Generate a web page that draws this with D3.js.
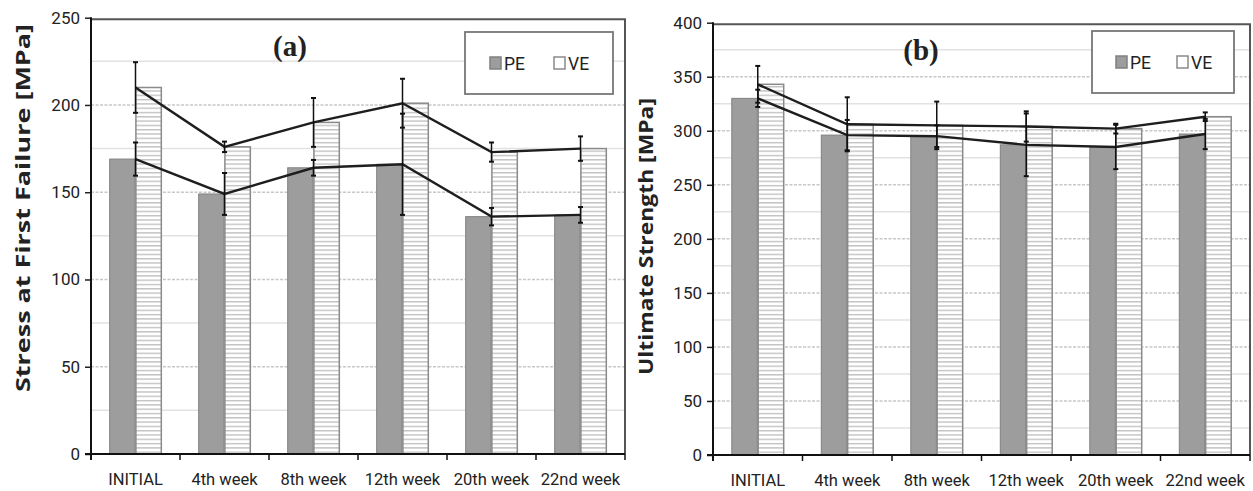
<!DOCTYPE html>
<html>
<head>
<meta charset="utf-8">
<script src="https://cdn.jsdelivr.net/npm/d3@7"></script>
<style>
  html, body { margin: 0; padding: 0; background: #fff; }
  svg { display: block; }
  text { font-family: Roboto, "Open Sans", sans-serif; fill: #222; }
</style>
</head>
<body>
<svg id="chart" width="1253" height="491"></svg>
<script>
// Sampling points of the ageing test
const weeks = ["INITIAL", "4th week", "8th week", "12th week", "20th week", "22nd week"];
const seriesNames = ["PE", "VE"];

// (a) Stress at first failure [MPa], mean and standard deviation
const peFirstFailure    = [169, 149, 164, 166, 136, 137];
const peFirstFailureErr = [9.5, 12, 4.5, 29, 5, 4.5];
const veFirstFailure    = [210, 176, 190, 201, 173, 175];
const veFirstFailureErr = [14.5, 3, 14, 14, 5.5, 7];

// (b) Ultimate strength [MPa], mean and standard deviation
const peUltimate    = [330, 296, 295, 287, 285, 297];
const peUltimateErr = [8, 14, 10, 29, 20.5, 14];
const veUltimate    = [343, 306, 305, 304, 302, 313];
const veUltimateErr = [17, 25, 22, 14, 4.5, 4];

// Axis tick values
const ticksA = [0, 50, 100, 150, 200, 250];
const ticksB = [0, 50, 100, 150, 200, 250, 300, 350, 400];

const svg = d3.select("#chart");

// horizontal stripe fill for the VE bars
const defs = svg.append("defs");
const pat = defs.append("pattern")
  .attr("id", "hstripe")
  .attr("patternUnits", "userSpaceOnUse")
  .attr("width", 6).attr("height", 4.3);
pat.append("rect").attr("width", 6).attr("height", 4.3).attr("fill", "#fff");
pat.append("rect").attr("y", 0).attr("width", 6).attr("height", 1.4).attr("fill", "#c2c2c2");

function drawPanel(cfg) {
  const g = svg.append("g");
  const x = d3.scaleBand().domain(weeks).range([cfg.left, cfg.right]);
  const bw = x.bandwidth();
  const sub = d3.scaleBand().domain(seriesNames).range([bw * 0.21, bw * 0.79]).paddingInner(0.03);
  const y = d3.scaleLinear().domain([0, cfg.max]).range([cfg.bottom, cfg.top]);

  // grid lines every 25 units
  const gridVals = d3.range(25, cfg.max, 25);
  g.selectAll("line.grid").data(gridVals).join("line")
    .attr("x1", cfg.left).attr("x2", cfg.right)
    .attr("y1", d => y(d)).attr("y2", d => y(d))
    .attr("stroke", d => d % 50 === 0 ? "#c8c8c8" : "#e2e2e2")
    .attr("stroke-width", 1.5)
    .attr("stroke-dasharray", d => d % 50 === 0 ? "3,1.5" : null);

  // frame top and right
  g.append("path")
    .attr("d", `M${cfg.left},${y(cfg.max) + 1.5}H${cfg.right}V${cfg.bottom}`)
    .attr("fill", "none").attr("stroke", "#555").attr("stroke-width", 2);

  // bars
  const rows = weeks.map((w, i) => ({ w, pe: cfg.pe[i], ve: cfg.ve[i], peErr: cfg.peErr[i], veErr: cfg.veErr[i] }));
  g.selectAll("rect.pe").data(rows).join("rect")
    .attr("x", d => x(d.w) + sub("PE"))
    .attr("y", d => y(d.pe))
    .attr("width", sub.bandwidth())
    .attr("height", d => y(0) - y(d.pe))
    .attr("fill", "#9d9d9d").attr("stroke", "#808080").attr("stroke-width", 1);
  g.selectAll("rect.ve").data(rows).join("rect")
    .attr("x", d => x(d.w) + sub("VE"))
    .attr("y", d => y(d.ve))
    .attr("width", sub.bandwidth())
    .attr("height", d => y(0) - y(d.ve))
    .attr("fill", "url(#hstripe)").attr("stroke", "#8a8a8a").attr("stroke-width", 1.5);

  // connecting mean lines
  const cx = d => x(d.w) + bw / 2;
  const lineVE = d3.line().x(cx).y(d => y(d.ve));
  const linePE = d3.line().x(cx).y(d => y(d.pe));
  g.append("path").attr("d", lineVE(rows)).attr("fill", "none").attr("stroke", "#1e1e1e").attr("stroke-width", 2.4);
  g.append("path").attr("d", linePE(rows)).attr("fill", "none").attr("stroke", "#1e1e1e").attr("stroke-width", 2.4);

  // error bars
  const errs = [];
  rows.forEach(d => {
    errs.push({ w: d.w, lo: d.ve - d.veErr, hi: d.ve + d.veErr });
    errs.push({ w: d.w, lo: d.pe - d.peErr, hi: d.pe + d.peErr });
  });
  g.selectAll("line.err").data(errs).join("line")
    .attr("x1", cx).attr("x2", cx)
    .attr("y1", d => y(d.lo)).attr("y2", d => y(d.hi))
    .attr("stroke", "#111").attr("stroke-width", 1.5);
  const caps = errs.flatMap(d => [{ w: d.w, v: d.lo }, { w: d.w, v: d.hi }]);
  g.selectAll("line.cap").data(caps).join("line")
    .attr("x1", d => cx(d) - 2.5).attr("x2", d => cx(d) + 2.5)
    .attr("y1", d => y(d.v)).attr("y2", d => y(d.v))
    .attr("stroke", "#111").attr("stroke-width", 2);

  // y axis
  const yAxis = d3.axisLeft(y).tickValues(cfg.ticks).tickSize(6).tickSizeOuter(0).tickPadding(5);
  const ya = g.append("g").attr("transform", `translate(${cfg.left},0)`).call(yAxis);
  ya.select(".domain").remove();
  ya.selectAll(".tick line").attr("stroke", "#222").attr("stroke-width", 1.5);
  ya.selectAll(".tick text").attr("font-size", 17).attr("fill", "#2a2a2a")
    .style("font-family", 'Roboto, sans-serif');
  g.append("line")
    .attr("x1", cfg.left).attr("x2", cfg.left)
    .attr("y1", y(cfg.max) - 0.5).attr("y2", cfg.bottom + 6)
    .attr("stroke", "#111").attr("stroke-width", 2);

  // x axis with ticks between categories
  g.append("line")
    .attr("x1", cfg.left - 6).attr("x2", cfg.right)
    .attr("y1", cfg.bottom).attr("y2", cfg.bottom)
    .attr("stroke", "#111").attr("stroke-width", 2);
  const bounds = weeks.map(w => x(w)).concat([x(weeks[weeks.length - 1]) + bw]).slice(1);
  g.selectAll("line.xt").data(bounds).join("line")
    .attr("x1", d => d).attr("x2", d => d)
    .attr("y1", cfg.bottom).attr("y2", cfg.bottom + 6)
    .attr("stroke", "#111").attr("stroke-width", 1.5);
  g.selectAll("text.xl").data(weeks).join("text")
    .attr("x", d => x(d) + bw / 2)
    .attr("y", cfg.bottom + 31)
    .attr("text-anchor", "middle")
    .attr("font-size", 16.5)
    .attr("fill", "#2a2a2a")
    .text(d => d);

  // axis title
  g.append("text")
    .attr("transform", `translate(${cfg.titleX},${cfg.titleY}) rotate(-90)`)
    .attr("text-anchor", "middle")
    .attr("dominant-baseline", "central")
    .attr("font-size", 19).attr("font-weight", "bold")
    .style("font-family", '"Open Sans", sans-serif')
    .attr("textLength", cfg.titleLen).attr("lengthAdjust", "spacingAndGlyphs")
    .text(cfg.title);

  // panel label
  g.append("text")
    .attr("x", cfg.tagX).attr("y", cfg.tagY)
    .attr("text-anchor", "middle")
    .attr("font-size", 29).attr("font-weight", "bold")
    .style("font-family", '"Liberation Serif", "DejaVu Serif", serif')
    .text(cfg.tag);

  // legend
  const L = cfg.legend;
  const lg = g.append("g");
  lg.append("rect").attr("x", L.x).attr("y", L.y).attr("width", L.w).attr("height", L.h)
    .attr("fill", "#fff").attr("stroke", "#777").attr("stroke-width", 1.8);
  const items = [
    { name: "PE", fill: "#9d9d9d", stroke: "#808080", dx: L.peX },
    { name: "VE", fill: "#fff", stroke: "#8a8a8a", dx: L.veX }
  ];
  items.forEach(it => {
    lg.append("rect").attr("x", L.x + it.dx).attr("y", L.y + L.h / 2 - 6)
      .attr("width", 11).attr("height", 12)
      .attr("fill", it.fill).attr("stroke", it.stroke).attr("stroke-width", 1.5);
    lg.append("text").attr("x", L.x + it.dx + 14).attr("y", L.y + L.h / 2 + 6.5)
      .attr("font-size", 17.5).attr("fill", "#222").text(it.name);
  });
}

drawPanel({
  left: 91, right: 625, top: 17.7, bottom: 454, max: 250, ticks: ticksA,
  pe: peFirstFailure, peErr: peFirstFailureErr, ve: veFirstFailure, veErr: veFirstFailureErr,
  title: "Stress at First Failure [MPa]", titleX: 23, titleY: 208, titleLen: 368,
  tag: "(a)", tagX: 290, tagY: 56,
  legend: { x: 465, y: 32, w: 148, h: 62, peX: 25, veX: 89 }
});

drawPanel({
  left: 713, right: 1250, top: 22.7, bottom: 455, max: 400, ticks: ticksB,
  pe: peUltimate, peErr: peUltimateErr, ve: veUltimate, veErr: veUltimateErr,
  title: "Ultimate Strength [MPa]", titleX: 646, titleY: 236.5, titleLen: 277,
  tag: "(b)", tagX: 921, tagY: 60,
  legend: { x: 1092, y: 31, w: 142, h: 62, peX: 24, veX: 85 }
});
</script>
</body>
</html>
